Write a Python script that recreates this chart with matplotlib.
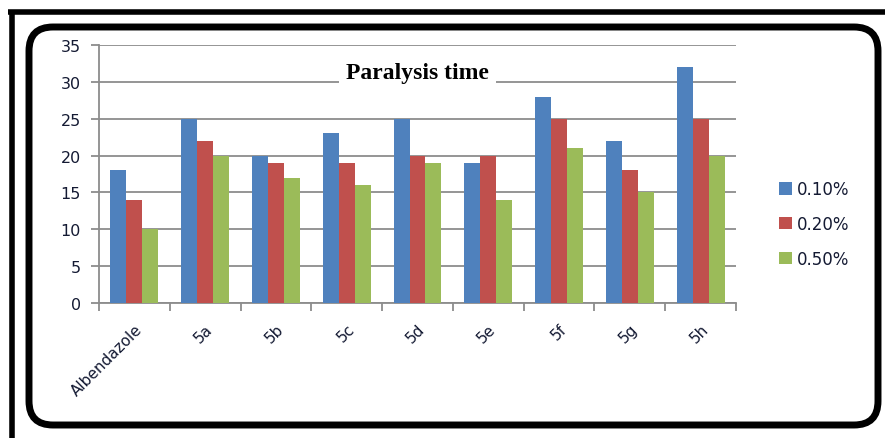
import numpy as np
import matplotlib
matplotlib.use("Agg")
import matplotlib.pyplot as plt
from matplotlib.patches import FancyBboxPatch

# data
categories = ['Albendazole', '5a', '5b', '5c', '5d', '5e', '5f', '5g', '5h']
conc_010 = [18, 25, 20, 23, 25, 19, 28, 22, 32]
conc_020 = [14, 22, 19, 19, 20, 20, 25, 18, 25]
conc_050 = [10, 20, 17, 16, 19, 14, 21, 15, 20]
series_labels = ['0.10%', '0.20%', '0.50%']
colors = ['#4F81BD', '#C0504D', '#9BBB59']
txt_color = '#141a33'

W, H = 885, 439
fig = plt.figure(figsize=(W / 100, H / 100), dpi=100)

# background layer in pixel units for the frames
bg = fig.add_axes([0, 0, 1, 1])
bg.set_xlim(0, W)
bg.set_ylim(H, 0)
bg.axis('off')
bg.plot([8, W + 5], [13, 13], color='black', lw=4, solid_capstyle='butt')
bg.plot([11.5, 11.5], [11, H + 5], color='black', lw=4, solid_capstyle='butt')
frame = FancyBboxPatch((29, 28), 849, 398, boxstyle='round,pad=0,rounding_size=24',
                       facecolor='white', edgecolor='black', lw=5)
bg.add_patch(frame)

# chart axes
ax = fig.add_axes([99 / W, 1 - 304 / H, (736 - 99) / W, (304 - 46) / H])
ax.set_facecolor('none')
x = np.arange(len(categories))
bw = 0.226
for i, (vals, lab, c) in enumerate(zip([conc_010, conc_020, conc_050], series_labels, colors)):
    ax.bar(x + (i - 1) * bw, vals, bw, color=c, label=lab, zorder=3)

ax.set_xlim(-0.5, len(categories) - 0.5)
ax.set_ylim(0, 35)
ax.set_yticks(range(0, 36, 5))
ax.yaxis.grid(True, color='#8c8c8c', lw=1.3, zorder=0)
ax.set_axisbelow(True)
for s in ['top', 'right']:
    ax.spines[s].set_visible(False)
for s in ['left', 'bottom']:
    ax.spines[s].set_color('#8c8c8c')
    ax.spines[s].set_linewidth(1.3)

ax.set_xticks(x)
ax.set_xticklabels(categories, rotation=45, ha='right', rotation_mode='anchor',
                   fontsize=11, color=txt_color)
ax.tick_params(axis='x', length=0, pad=13)
ax.set_xticks(np.arange(-0.5, len(categories), 1), minor=True)
ax.tick_params(axis='x', which='minor', length=6, color='#8c8c8c', width=1.3)
ax.tick_params(axis='y', length=6, color='#8c8c8c', width=1.3, labelsize=11.5,
               labelcolor=txt_color, pad=7)

ax.text(0.5, 0.895, 'Paralysis time', transform=ax.transAxes, ha='center', va='center',
        fontsize=17, fontweight='bold', family='Liberation Serif',
        bbox=dict(facecolor='white', edgecolor='none', pad=5), zorder=4)

fig.legend(loc='center left', bbox_to_anchor=(764 / W, 1 - 225 / H), frameon=False,
           fontsize=12, handlelength=0.75, handleheight=0.75, handletextpad=0.35,
           labelspacing=1.0, labelcolor=txt_color)

fig.savefig('out.png', dpi=100)
